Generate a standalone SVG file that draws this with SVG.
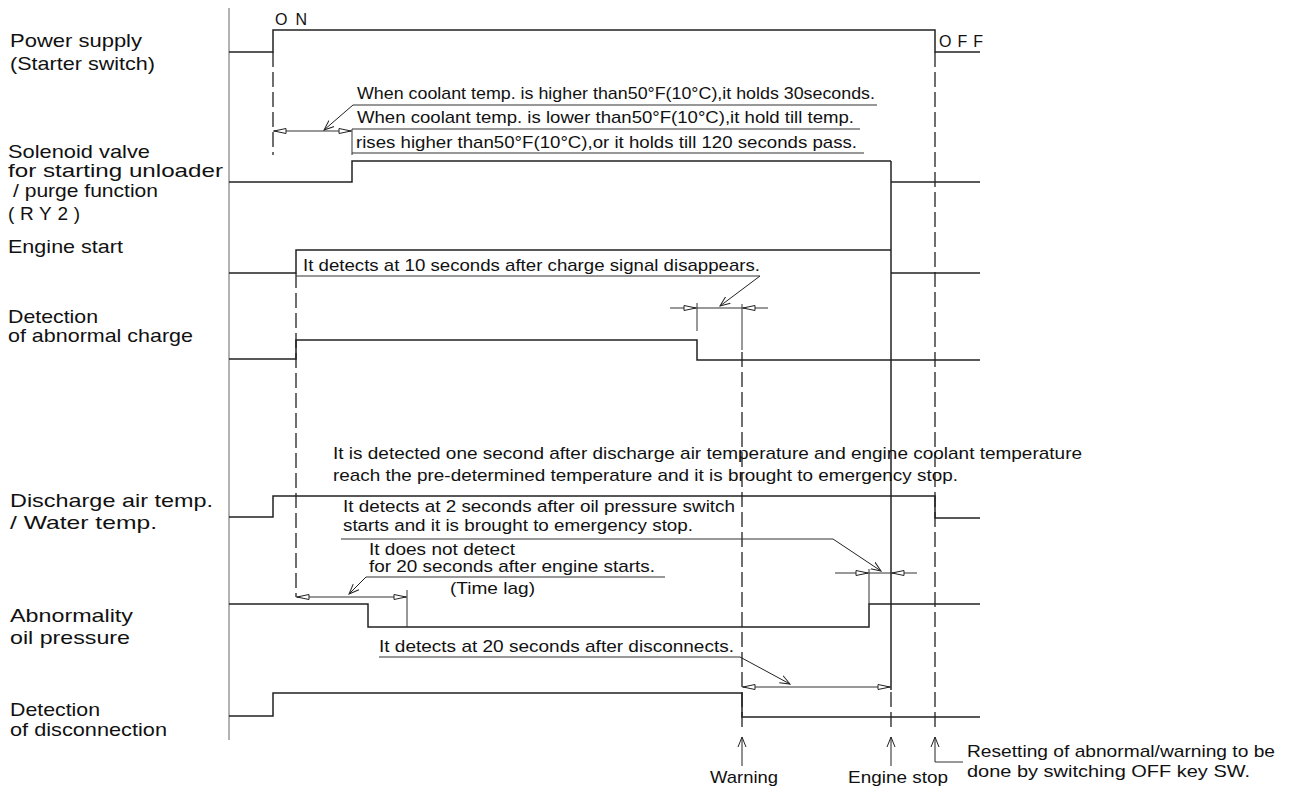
<svg xmlns="http://www.w3.org/2000/svg" width="1290" height="791" viewBox="0 0 1290 791">
<defs>
<style>
.sig{fill:none;stroke:#222;stroke-width:1.5}
.ax{fill:none;stroke:#999;stroke-width:1.5}
.dash{fill:none;stroke:#222;stroke-width:1.3;stroke-dasharray:15 5}
.thin{fill:none;stroke:#333;stroke-width:1}
.ul{fill:none;stroke:#333;stroke-width:1.2}
.ldr{fill:none;stroke:#222;stroke-width:1;marker-end:url(#open)}
.tri{fill:#fff;stroke:#222;stroke-width:1}
.lbl{font-family:"Liberation Sans",Arial,sans-serif;font-size:19px;fill:#111}
.ann{font-family:"Liberation Sans",Arial,sans-serif;font-size:17px;fill:#111}
.ann2{font-family:"Liberation Sans",Arial,sans-serif;font-size:16px;fill:#111}
.sp{font-family:"Liberation Sans",Arial,sans-serif;font-size:16px;fill:#111}
</style>
<marker id="open" viewBox="-10 -5 12 10" refX="0" refY="0" markerWidth="12" markerHeight="10" markerUnits="userSpaceOnUse" orient="auto">
<path d="M-10,-4 L0,0 L-10,4" fill="none" stroke="#222" stroke-width="1"/>
</marker>
</defs>
<rect width="1290" height="791" fill="#fff"/>

<g id="axis">
<line class="ax" x1="229" y1="8" x2="229" y2="740"/>
</g>

<g id="power-supply">
<text class="lbl" x="10" y="47" textLength="132" lengthAdjust="spacingAndGlyphs">Power supply</text>
<text class="lbl" x="10" y="70" textLength="145" lengthAdjust="spacingAndGlyphs">(Starter switch)</text>
<polyline class="sig" points="229,52 273,52 273,30 935,30 935,52 980,52"/>
<text class="sp" x="275" y="25" textLength="32">ON</text>
<text class="sp" x="939" y="47" textLength="44">OFF</text>
</g>

<g id="solenoid-valve">
<text class="lbl" x="8" y="158" textLength="142" lengthAdjust="spacingAndGlyphs">Solenoid valve</text>
<text class="lbl" x="8" y="177" textLength="215" lengthAdjust="spacingAndGlyphs">for starting unloader</text>
<text class="lbl" x="13" y="197" textLength="145" lengthAdjust="spacingAndGlyphs">/ purge function</text>
<text class="lbl" x="8" y="220" textLength="72">(RY2)</text>
<polyline class="sig" points="229,182 352,182 352,161 891,161"/>
<polyline class="sig" points="891,182 980,182"/>
</g>

<g id="engine-start">
<text class="lbl" x="8" y="253" textLength="115" lengthAdjust="spacingAndGlyphs">Engine start</text>
<polyline class="sig" points="229,273 296,273 296,250 891,250"/>
<polyline class="sig" points="891,273 980,273"/>
</g>

<g id="abnormal-charge">
<text class="lbl" x="8" y="323" textLength="90" lengthAdjust="spacingAndGlyphs">Detection</text>
<text class="lbl" x="8" y="342" textLength="185" lengthAdjust="spacingAndGlyphs">of abnormal charge</text>
<polyline class="sig" points="229,359 296,359 296,340 697,340 697,360 980,360"/>
</g>

<g id="discharge-temp">
<text class="lbl" x="10" y="507" textLength="203" lengthAdjust="spacingAndGlyphs">Discharge air temp.</text>
<text class="lbl" x="10" y="529" textLength="147" lengthAdjust="spacingAndGlyphs">/ Water temp.</text>
<polyline class="sig" points="229,517 273,517 273,496 935,496 935,518 980,518"/>
</g>

<g id="oil-pressure">
<text class="lbl" x="10" y="622" textLength="123" lengthAdjust="spacingAndGlyphs">Abnormality</text>
<text class="lbl" x="10" y="644" textLength="120" lengthAdjust="spacingAndGlyphs">oil pressure</text>
<polyline class="sig" points="229,604 368,604 368,627 869,627 869,604 980,604"/>
</g>

<g id="disconnection">
<text class="lbl" x="10" y="716" textLength="90" lengthAdjust="spacingAndGlyphs">Detection</text>
<text class="lbl" x="10" y="736" textLength="157" lengthAdjust="spacingAndGlyphs">of disconnection</text>
<polyline class="sig" points="229,716 273,716 273,693 742,693 742,717 980,717"/>
</g>

<g id="connectors">
<line class="dash" x1="273" y1="52" x2="273" y2="155"/>
<line class="dash" x1="296" y1="273" x2="296" y2="597"/>
<line class="thin" x1="742" y1="304" x2="742" y2="350"/>
<line class="dash" x1="742" y1="352" x2="742" y2="730"/>
<line class="dash" x1="935" y1="52" x2="935" y2="730"/>
<line class="sig" x1="891" y1="161" x2="891" y2="690"/>
<line class="dash" x1="891" y1="692" x2="891" y2="730"/>

<line class="thin" x1="352" y1="129" x2="352" y2="155"/>
<line class="thin" x1="273" y1="131" x2="352" y2="131"/>
<polygon class="tri" points="274,131 286,128.5 286,133.5"/>
<polygon class="tri" points="351,131 339,128.5 339,133.5"/>

<line class="thin" x1="697" y1="303" x2="697" y2="331"/>
<line class="thin" x1="670" y1="308" x2="768" y2="308"/>
<polygon class="tri" points="696,308 684,305.5 684,310.5"/>
<polygon class="tri" points="743,308 755,305.5 755,310.5"/>

<line class="thin" x1="869" y1="569" x2="869" y2="604"/>
<line class="thin" x1="835" y1="573" x2="917" y2="573"/>
<polygon class="tri" points="868,573 856,570.5 856,575.5"/>
<polygon class="tri" points="892,573 904,570.5 904,575.5"/>

<line class="thin" x1="407" y1="590" x2="407" y2="627"/>
<line class="thin" x1="296" y1="597" x2="407" y2="597"/>
<polygon class="tri" points="297,597 309,594.5 309,599.5"/>
<polygon class="tri" points="406,597 394,594.5 394,599.5"/>

<line class="thin" x1="742" y1="687" x2="891" y2="687"/>
<polygon class="tri" points="743,687 755,684.5 755,689.5"/>
<polygon class="tri" points="890,687 878,684.5 878,689.5"/>

<line class="ul" x1="353" y1="105" x2="877" y2="105"/>
<line class="ul" x1="352" y1="129" x2="860" y2="129"/>
<line class="ul" x1="352" y1="153" x2="864" y2="153"/>
<line class="ul" x1="296" y1="276" x2="760" y2="276"/>
<line class="ul" x1="341" y1="539" x2="833" y2="539"/>
<line class="ul" x1="366" y1="577" x2="665" y2="577"/>
<line class="ul" x1="379" y1="657" x2="740" y2="657"/>

<line class="ldr" x1="353" y1="105" x2="324" y2="130"/>
<line class="ldr" x1="760" y1="276" x2="720" y2="306"/>
<line class="ldr" x1="833" y1="539" x2="881" y2="571"/>
<line class="ldr" x1="366" y1="577" x2="349" y2="594"/>
<line class="ldr" x1="740" y1="657" x2="790" y2="684"/>

<line class="ldr" x1="742" y1="766" x2="742" y2="737"/>
<line class="ldr" x1="891" y1="766" x2="891" y2="737"/>
<line class="ldr" x1="935" y1="762" x2="935" y2="737"/>
<line class="thin" x1="935" y1="762" x2="963" y2="762"/>
</g>

<g id="annotations">
<text class="ann" x="357" y="99" textLength="518" lengthAdjust="spacingAndGlyphs">When coolant temp. is higher than50°F(10°C),it holds 30seconds.</text>
<text class="ann" x="357" y="123" textLength="497" lengthAdjust="spacingAndGlyphs">When coolant temp.  is lower than50°F(10°C),it hold till temp.</text>
<text class="ann" x="356" y="148" textLength="501" lengthAdjust="spacingAndGlyphs">rises higher than50°F(10°C),or it holds till 120 seconds pass.</text>
<text class="ann" x="303" y="271" textLength="457" lengthAdjust="spacingAndGlyphs">It detects at 10 seconds after charge signal disappears.</text>
<text class="ann" x="333" y="459" textLength="749" lengthAdjust="spacingAndGlyphs">It is detected one second after discharge air temperature and engine coolant temperature</text>
<text class="ann" x="333" y="481" textLength="625" lengthAdjust="spacingAndGlyphs">reach the pre-determined temperature and it is brought to emergency stop.</text>
<text class="ann2" x="343" y="512" textLength="392" lengthAdjust="spacingAndGlyphs">It detects at 2 seconds after oil pressure switch</text>
<text class="ann2" x="343" y="531" textLength="350" lengthAdjust="spacingAndGlyphs">starts and it is brought to emergency stop.</text>
<text class="ann" x="369" y="555" textLength="146" lengthAdjust="spacingAndGlyphs">It does not detect</text>
<text class="ann" x="369" y="572" textLength="286" lengthAdjust="spacingAndGlyphs">for 20 seconds after engine starts.</text>
<text class="ann" x="450" y="594" textLength="85" lengthAdjust="spacingAndGlyphs">(Time lag)</text>
<text class="ann" x="379" y="652" textLength="355" lengthAdjust="spacingAndGlyphs">It detects at 20 seconds after disconnects.</text>
<text class="ann" x="710" y="783" textLength="68" lengthAdjust="spacingAndGlyphs">Warning</text>
<text class="ann" x="848" y="783" textLength="100" lengthAdjust="spacingAndGlyphs">Engine stop</text>
<text class="ann" x="967" y="757" textLength="308" lengthAdjust="spacingAndGlyphs">Resetting of abnormal/warning to be</text>
<text class="ann" x="967" y="777" textLength="283" lengthAdjust="spacingAndGlyphs">done by switching OFF key SW.</text>
</g>
</svg>
